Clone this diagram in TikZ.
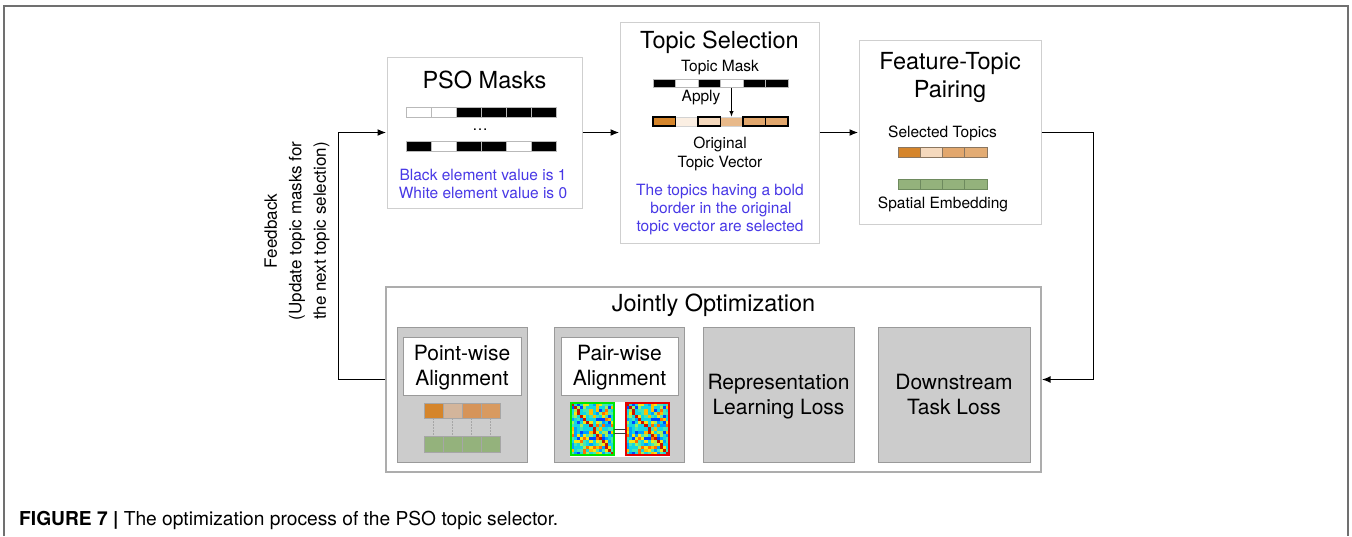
\documentclass[tikz,border=0pt]{standalone}
\usepackage{fontspec}
\setmainfont{TeX Gyre Heros}
\usetikzlibrary{arrows.meta}

\definecolor{framegray}{HTML}{707070}
\definecolor{panelgray}{HTML}{CFCFCF}
\definecolor{jointgray}{HTML}{ADADAD}
\definecolor{lossfill}{HTML}{CCCCCC}
\definecolor{lossedge}{HTML}{9A9A9A}
\definecolor{noteblue}{RGB}{72,56,230}
\definecolor{tDark}{HTML}{D5852B}
\definecolor{tPale}{HTML}{FBEFE3}
\definecolor{tLight}{HTML}{F5D9BD}
\definecolor{tMid}{HTML}{E8B98A}
\definecolor{tWarm}{HTML}{E2A76D}
\definecolor{tWarmB}{HTML}{E3AC74}
\definecolor{tTan}{HTML}{D3B59B}
\definecolor{tRust}{HTML}{D69459}
\definecolor{tRustB}{HTML}{D89A60}
\definecolor{tEdge}{HTML}{8A7660}
\definecolor{spGreen}{HTML}{94B27C}
\definecolor{spEdge}{HTML}{6E8A5E}
\definecolor{hmGreen}{RGB}{0,230,0}
\definecolor{hmRed}{RGB}{230,0,0}
% jet colour map used by the correlation heat maps
\definecolor{jet1}{RGB}{0,70,255}
\definecolor{jet2}{RGB}{0,160,255}
\definecolor{jet3}{RGB}{20,215,225}
\definecolor{jet4}{RGB}{70,230,180}
\definecolor{jet5}{RGB}{160,240,90}
\definecolor{jet6}{RGB}{245,230,20}
\definecolor{jet7}{RGB}{255,190,0}
\definecolor{jet8}{RGB}{255,110,0}
\definecolor{jet9}{RGB}{200,20,0}

\tikzset{
  panel/.style={draw=panelgray, line width=1pt, fill=white, inner sep=0pt},
  lossbox/.style={draw=lossedge, line width=1pt, fill=lossfill, inner sep=0pt},
  labelbox/.style={draw=lossedge, line width=0.7pt, fill=white, inner sep=0pt},
  title/.style={font=\fontsize{23.5}{28}\selectfont, inner sep=0pt, anchor=base},
  mid/.style={font=\fontsize{21}{25}\selectfont, inner sep=0pt, anchor=base},
  small/.style={font=\fontsize{15.5}{19}\selectfont, inner sep=0pt, anchor=base},
  note/.style={small, text=noteblue},
  cell/.style={draw=gray!55, line width=0.6pt},
  flow/.style={line width=1.8pt, -{Latex[length=9pt,width=7pt]}},
}

% correlation heat map: #1,#2 = top-left corner, #3 = border colour
\newcommand{\drawheat}[3]{%
  \pgfmathsetseed{11}%
  \foreach \i in {0,...,13}{%
    \foreach \j in {0,...,16}{%
      \pgfmathtruncatemacro\k{random(1,13)}%
      \ifcase\k\or\def\hc{jet1}\or\def\hc{jet2}\or\def\hc{jet3}\or\def\hc{jet3}%
        \or\def\hc{jet3}\or\def\hc{jet3}\or\def\hc{jet4}\or\def\hc{jet4}\or\def\hc{jet5}%
        \or\def\hc{jet6}\or\def\hc{jet6}\or\def\hc{jet7}\or\def\hc{jet8}\fi
      \pgfmathtruncatemacro\d{abs(\i-round(\j*13/16))}%
      \ifnum\d=0 \def\hc{jet9}\fi
      \fill[\hc] ({#1+\i*3.071},{#2+\j*3.059}) rectangle ++(3.1,3.1);
    }%
  }%
  \draw[#3, line width=2.6pt] (#1,#2) rectangle ++(43,52);
}

\begin{document}
\begin{tikzpicture}[x=1pt,y=-1pt]
\useasboundingbox (0,0) rectangle (1352,536);

% figure frame
\draw[framegray, line width=1.5pt] (4,536) -- (4,6) -- (1348,6) -- (1348,536);

% ---------- stage panels ----------
\node[panel, minimum width=195pt, minimum height=151pt] (pso) at (484.5,132.5) {};
\node[panel, minimum width=199pt, minimum height=221pt] (sel) at (719.5,132.5) {};
\node[panel, minimum width=182pt, minimum height=184pt] (pair) at (950,132.5) {};
\node[panel, draw=jointgray, line width=1.2pt, minimum width=655pt, minimum height=185pt] (joint) at (713.5,379.5) {};

% ---------- PSO masks ----------
\node[title] (psoT) at (484.5,88) {PSO Masks};
\foreach \c [count=\i from 0] in {white,white,black,black,black,black}
  \draw[cell, fill=\c] (406+25*\i,107) rectangle ++(25,10.5);
\node[small] (psoDots) at (480,130) {…};
\foreach \c [count=\i from 0] in {black,white,black,black,white,black}
  \draw[cell, fill=\c] (406+25*\i,141) rectangle ++(25,10.5);
\node[note] (psoN1) at (483,180.5) {Black element value is 1};
\node[note] (psoN2) at (483,198) {White element value is 0};

% ---------- topic selection ----------
\node[title] (selT) at (719.5,48) {Topic Selection};
\node[small] (selM) at (720,71) {Topic Mask};
\foreach \c [count=\i from 0] in {black,white,black,white,black,black}
  \draw[cell, fill=\c] (653+22.5*\i,79) rectangle ++(22.5,8.5);
\node[small] (apply) at (701,101.5) {Apply};
\foreach \c [count=\i from 0] in {tDark,tPale,tLight,tMid,tWarm,tWarm}
  \draw[draw=gray!35, line width=0.6pt, fill=\c] (653+22.5*\i,117) rectangle ++(22.5,9);
\foreach \i in {0,2,4,5}
  \draw[black, line width=1.6pt] (653+22.5*\i,117) rectangle ++(22.5,9);
\coordinate (maskCell) at (731.5,87.5);
\coordinate (vecCell) at (731.5,117);
\draw[line width=1.2pt, -{Latex[length=6pt,width=4.5pt]}] (maskCell) -- (vecCell);
\node[small] (orig1) at (720,148) {Original};
\node[small] (orig2) at (720,167) {Topic Vector};
\node[note] (selN1) at (720,195) {The topics having a bold};
\node[note] (selN2) at (721,213) {border in the original};
\node[note] (selN3) at (720,231) {topic vector are selected};

% ---------- feature-topic pairing ----------
\node[title] (pairT1) at (950,69) {Feature-Topic};
\node[title] (pairT2) at (950,97.5) {Pairing};
\node[small] (pairS) at (942.5,137.5) {Selected Topics};
\foreach \c [count=\i from 0] in {tDark,tLight,tWarm,tWarmB}
  \draw[draw=tEdge, line width=0.7pt, fill=\c] (898+22.25*\i,147) rectangle ++(22.25,10);
\foreach \i in {0,...,3}
  \draw[draw=spEdge, line width=0.7pt, fill=spGreen] (898+22.25*\i,179) rectangle ++(22.25,10);
\node[small] (pairE) at (943,208.5) {Spatial Embedding};

% ---------- jointly optimization ----------
\node[title] (jointT) at (713.5,311) {Jointly Optimization};

\node[lossbox, minimum width=130pt, minimum height=135pt] (point) at (462,394.5) {};
\node[lossbox, minimum width=130pt, minimum height=135pt] (pairw) at (619,394.5) {};
\node[lossbox, minimum width=151pt, minimum height=135pt] (repr) at (778.5,394.5) {};
\node[lossbox, minimum width=152pt, minimum height=135pt] (down) at (954,394.5) {};

\node[labelbox, minimum width=118pt, minimum height=58pt] (pointL) at (462,366) {};
\node[mid] (pointL1) at (462,360) {Point-wise};
\node[mid] (pointL2) at (462,385) {Alignment};
\node[labelbox, minimum width=117pt, minimum height=58pt] (pairL) at (619.5,366) {};
\node[mid] (pairL1) at (619.5,360) {Pair-wise};
\node[mid] (pairL2) at (619.5,385) {Alignment};
\node[mid] (repr1) at (778.5,389) {Representation};
\node[mid] (repr2) at (778.5,414) {Learning Loss};
\node[mid] (down1) at (954,389) {Downstream};
\node[mid] (down2) at (954,414) {Task Loss};

% point-wise: topic cells linked to embedding cells
\foreach \c [count=\i from 0] in {tDark,tTan,tRust,tRustB}
  \draw[draw=gray!70, line width=0.6pt, fill=\c] (424+19*\i,403) rectangle ++(19,15);
\foreach \i in {0,...,3}
  \draw[draw=gray!70, line width=0.6pt, fill=spGreen] (424+19*\i,436) rectangle ++(19,16);
\foreach \i in {0,...,3}
  \draw[gray!70, line width=0.6pt, dash pattern=on 1.5pt off 1.5pt] (433.5+19*\i,418) -- (433.5+19*\i,436);

% pair-wise: two similarity heat maps
\fill[white] (570,402) rectangle (670,457);
\drawheat{571}{403}{hmGreen}
\drawheat{626}{403}{hmRed}
\draw[black!75, line width=1.3pt] (614,429.5) -- (626,429.5);
\draw[black!75, line width=1.3pt] (614,433.5) -- (626,433.5);

% ---------- flow connectors ----------
\draw[flow] (pso.east) -- (sel.west);
\draw[flow] (sel.east) -- (pair.west);
\draw[flow] (pair.east) -- ++(52,0) |- (joint.east);
\draw[flow] (joint.west) -- ++(-47,0) |- (pso.west);

\node[rotate=90, align=center, inner sep=0pt, font=\fontsize{17}{24.5}\selectfont] (feedback) at (297,231)
  {Feedback\\(Update topic masks for\\the next topic selection)};

% ---------- caption ----------
\node[anchor=base west, inner sep=0pt, font=\fontsize{19.2}{23}\selectfont] (caption) at (19,525)
  {\textbf{FIGURE 7 |} The optimization process of the PSO topic selector.};
\end{tikzpicture}
\end{document}
